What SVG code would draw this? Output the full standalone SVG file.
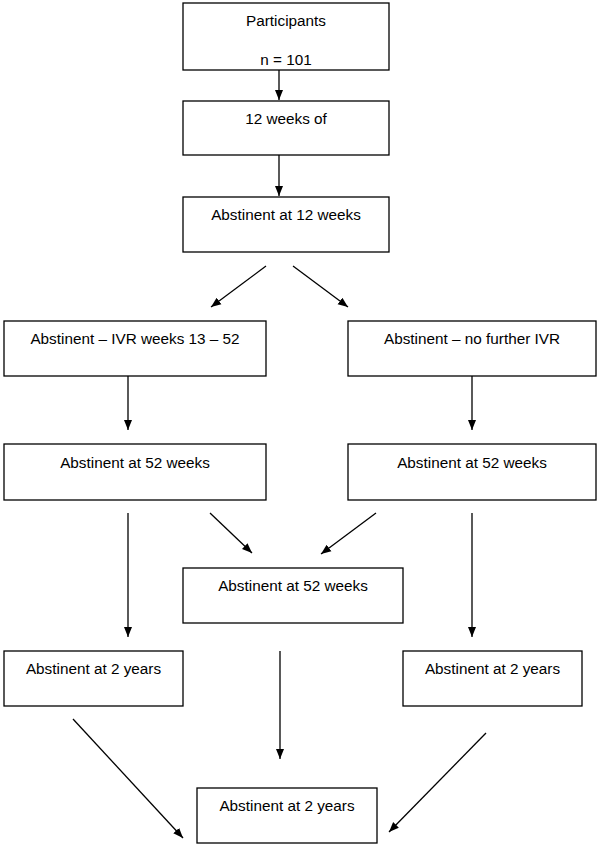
<svg xmlns="http://www.w3.org/2000/svg" width="600" height="848" viewBox="0 0 600 848">
<style>
.box{fill:#fff;stroke:#000;stroke-width:1.3}
.t{font-family:"Liberation Sans",Arial,sans-serif;font-size:15.3px;fill:#000;text-anchor:middle}
.c{stroke:#000;stroke-width:1.3;fill:none;marker-end:url(#ah)}
</style>
<defs>
<marker id="ah" viewBox="0 0 10 10" refX="10" refY="5" markerWidth="10" markerHeight="10" markerUnits="userSpaceOnUse" orient="auto">
<path d="M0,1 L10,5 L0,9 Z" fill="#000"/>
</marker>
</defs>
<rect width="600" height="848" fill="#fff"/>
<g id="connectors">
<line class="c" x1="279" y1="70" x2="279" y2="100"/>
<line class="c" x1="279" y1="155" x2="279" y2="196"/>
<line class="c" x1="266" y1="266" x2="211" y2="307"/>
<line class="c" x1="293" y1="266" x2="348" y2="307"/>
<line class="c" x1="128" y1="376" x2="128" y2="430"/>
<line class="c" x1="472" y1="376" x2="472" y2="430"/>
<line class="c" x1="128" y1="513" x2="128" y2="637"/>
<line class="c" x1="472" y1="513" x2="472" y2="637"/>
<line class="c" x1="210" y1="513" x2="252" y2="553"/>
<line class="c" x1="376" y1="513" x2="321" y2="554"/>
<line class="c" x1="280" y1="651" x2="280" y2="759"/>
<line class="c" x1="73" y1="719" x2="183" y2="838"/>
<line class="c" x1="486" y1="733" x2="389" y2="832"/>
</g>
<g id="participants">
<rect class="box" x="183" y="3" width="206" height="67"/>
<text class="t" x="286" y="26">Participants</text>
<text class="t" x="286" y="65">n = 101</text>
</g>
<g id="weeks12">
<rect class="box" x="183" y="101" width="206" height="54"/>
<text class="t" x="286" y="124">12 weeks of</text>
</g>
<g id="abst12">
<rect class="box" x="183" y="197" width="206" height="55"/>
<text class="t" x="286" y="220">Abstinent at 12 weeks</text>
</g>
<g id="ivr">
<rect class="box" x="4" y="321" width="262" height="55"/>
<text class="t" x="135" y="344">Abstinent – IVR weeks 13 – 52</text>
</g>
<g id="noivr">
<rect class="box" x="348" y="321" width="248" height="55"/>
<text class="t" x="472" y="344">Abstinent – no further IVR</text>
</g>
<g id="abst52left">
<rect class="box" x="4" y="444" width="262" height="56"/>
<text class="t" x="135" y="468">Abstinent at 52 weeks</text>
</g>
<g id="abst52right">
<rect class="box" x="348" y="444" width="248" height="56"/>
<text class="t" x="472" y="468">Abstinent at 52 weeks</text>
</g>
<g id="abst52center">
<rect class="box" x="183" y="568" width="220" height="55"/>
<text class="t" x="293" y="591">Abstinent at 52 weeks</text>
</g>
<g id="abst2left">
<rect class="box" x="4" y="651" width="179" height="55"/>
<text class="t" x="93.5" y="674">Abstinent at 2 years</text>
</g>
<g id="abst2right">
<rect class="box" x="403" y="651" width="179" height="55"/>
<text class="t" x="492.5" y="674">Abstinent at 2 years</text>
</g>
<g id="abst2center">
<rect class="box" x="197" y="788" width="180" height="55"/>
<text class="t" x="287" y="811">Abstinent at 2 years</text>
</g>
</svg>
